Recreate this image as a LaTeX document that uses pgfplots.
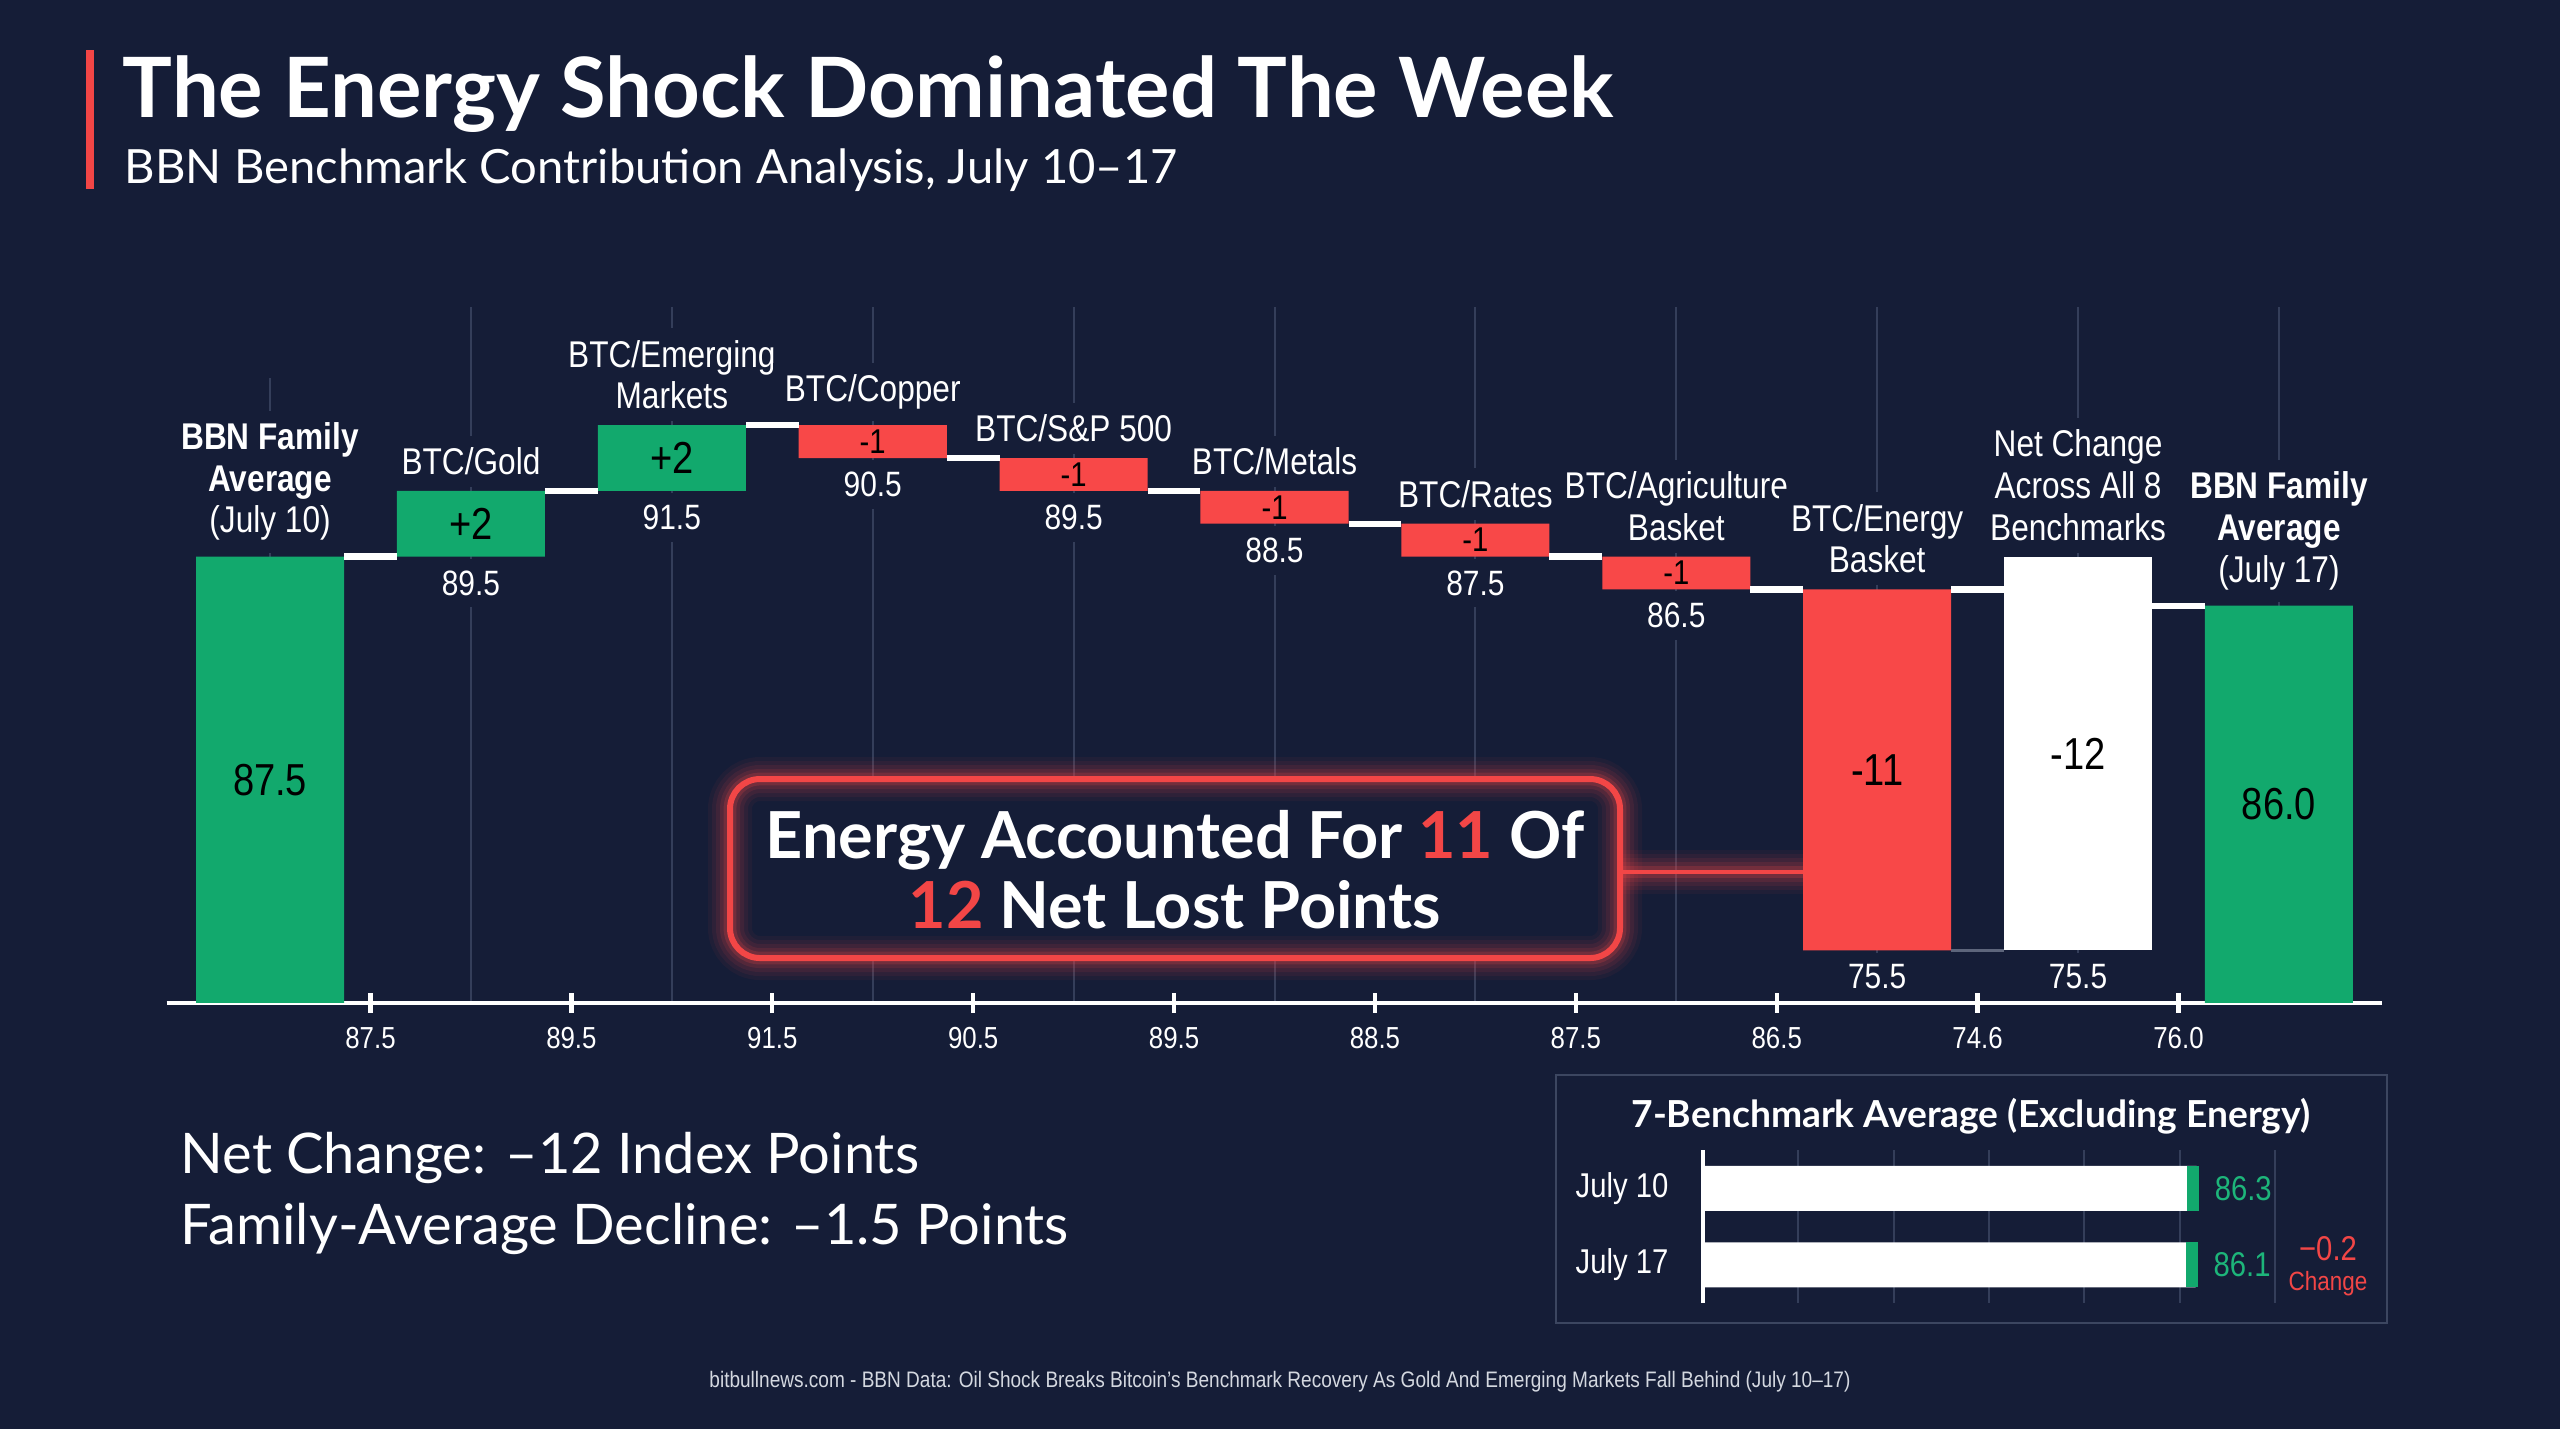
\documentclass[border=0pt]{standalone}
\usepackage{pgfplots}
\pgfplotsset{compat=1.18}
\usepackage{pgfplotstable}
\usepackage{fontspec}
\setmainfont{Liberation Sans}
\newfontfamily\latofont{Lato}
\newfontfamily\narrowfont[FakeStretch=0.85]{Liberation Sans}

\definecolor{bg}{HTML}{151D37}
\definecolor{gridc}{HTML}{343E5A}
\definecolor{upgreen}{HTML}{12A96D}
\definecolor{downred}{HTML}{F84848}
\definecolor{calred}{HTML}{F24646}
\definecolor{panelline}{HTML}{3C4660}
\definecolor{valgreen}{HTML}{1DB57A}
\definecolor{footgray}{HTML}{D4D8E0}

% waterfall: invisible base + visible segment per colour
\pgfplotstableread{
x  base  up    down  net
0  0     87.5  0     0
1  87.5  2     0     0
2  89.5  2     0     0
3  90.5  0     1     0
4  89.5  0     1     0
5  88.5  0     1     0
6  87.5  0     1     0
7  86.5  0     1     0
8  75.5  0     11    0
9  75.5  0     0     12
10 0     86.0  0     0
}\waterfall

% 7-benchmark average excluding energy
\pgfplotstableread{
y  val
2  86.3
1  86.1
}\exenergy

\pgfplotsset{
  wfframe/.style={
    at={(41.65pt,-250.75pt)}, anchor=south west,
    scale only axis, width=553.85pt, height=174pt,
    xmin=-0.515, xmax=10.513, ymin=73.9, ymax=95.1,
  },
}
\tikzset{
  catlab/.style={font=\narrowfont\fontsize{9.3}{10.4}\selectfont, text=white, align=center,
    fill=bg, inner xsep=3pt, inner ysep=3pt, anchor=south, yshift=0.8pt},
  vallab/.style={font=\narrowfont\fontsize{8.8}{10}\selectfont, text=white,
    fill=bg, inner xsep=3pt, inner ysep=3pt, anchor=north, yshift=-0.3pt},
  inlab/.style={font=\narrowfont\fontsize{11.2}{12}\selectfont, text=black, inner sep=0pt},
  inlabs/.style={font=\narrowfont\fontsize{8.6}{9}\selectfont, text=black, inner sep=0pt},
}

\begin{document}
\begin{tikzpicture}[x=0.25pt, y=-0.25pt]
\fill[bg] (0,0) rectangle (2560,1429);
\useasboundingbox (0,0) rectangle (2560,1429);

% heading
\fill[calred] (86,50) rectangle (94,189);
\node[anchor=base west, inner sep=0pt, text=white,
  font=\latofont\bfseries\fontsize{20.8}{24}\selectfont] at (122,117)
  {The Energy Shock Dominated The Week};
\node[anchor=base west, inner sep=0pt, text=white,
  font=\latofont\fontsize{11.8}{13}\selectfont] at (124,183)
  {BBN Benchmark Contribution Analysis, July 10–17};

% waterfall bars
\begin{axis}[
  wfframe,
  axis x line=bottom, axis y line=none,
  axis line style={white, line width=1pt, -},
  xtick={0.5,1.5,...,9.5},
  xticklabels={87.5,89.5,91.5,90.5,89.5,88.5,87.5,86.5,74.6,76.0},
  major tick length=5pt, tick align=center,
  xtick style={white, line width=1.1pt},
  xticklabel style={font=\narrowfont\fontsize{7.6}{8}\selectfont, text=white},
  minor xtick={0,...,10}, xminorgrids, minor tick length=0pt,
  minor grid style={gridc, line width=0.5pt},
  /pgf/number format/assume math mode=true,
  ybar stacked, bar width=0.737,
]
\addplot[draw=none, fill=none] table[x=x, y=base] {\waterfall};
\addplot[draw=none, fill=upgreen] table[x=x, y=up] {\waterfall};
\addplot[draw=none, fill=downred] table[x=x, y=down] {\waterfall};
\addplot[draw=none, fill=white] table[x=x, y=net] {\waterfall};
\end{axis}

% labels and connectors
\begin{axis}[wfframe, hide axis, clip=false, unbounded coords=jump]
\draw[bg, line width=2pt] (axis cs:0,92.94) -- (axis cs:0,95.2);

\node[catlab] at (axis cs:0,87.5) {\textbf{BBN Family}\\\textbf{Average}\\(July 10)};
\node[catlab] at (axis cs:1,89.5) {BTC/Gold};
\node[catlab] at (axis cs:2,91.5) {BTC/Emerging\\Markets};
\node[catlab] at (axis cs:3,91.5) {BTC/Copper};
\node[catlab] at (axis cs:4,90.5) {BTC/S\&P 500};
\node[catlab] at (axis cs:5,89.5) {BTC/Metals};
\node[catlab] at (axis cs:6,88.5) {BTC/Rates};
\node[catlab] at (axis cs:7,87.5) {BTC/Agriculture\\Basket};
\node[catlab] at (axis cs:8,86.5) {BTC/Energy\\Basket};
\node[catlab] at (axis cs:9,87.5) {Net Change\\Across All 8\\Benchmarks};
\node[catlab] at (axis cs:10,86.0) {\textbf{BBN Family}\\\textbf{Average}\\(July 17)};

\node[vallab] at (axis cs:1,87.5) {89.5};
\node[vallab] at (axis cs:2,89.5) {91.5};
\node[vallab] at (axis cs:3,90.5) {90.5};
\node[vallab] at (axis cs:4,89.5) {89.5};
\node[vallab] at (axis cs:5,88.5) {88.5};
\node[vallab] at (axis cs:6,87.5) {87.5};
\node[vallab] at (axis cs:7,86.5) {86.5};
\node[vallab] at (axis cs:8,75.5) {75.5};
\node[vallab] at (axis cs:9,75.5) {75.5};

\node[inlab]  at (axis cs:0,80.7) {87.5};
\node[inlab]  at (axis cs:1,88.5) {+2};
\node[inlab]  at (axis cs:2,90.5) {+2};
\node[inlabs] at (axis cs:3,91.0) {-1};
\node[inlabs] at (axis cs:4,90.0) {-1};
\node[inlabs] at (axis cs:5,89.0) {-1};
\node[inlabs] at (axis cs:6,88.0) {-1};
\node[inlabs] at (axis cs:7,87.0) {-1};
\node[inlab]  at (axis cs:8,81.0) {-11};
\node[inlab]  at (axis cs:9,81.5) {-12};
\node[inlab]  at (axis cs:10,79.95) {86.0};

% running-total connectors
\addplot[white, line width=1.6pt] coordinates {
  (0.3685,87.5) (0.6315,87.5) (0.7,nan)
  (1.3685,89.5) (1.6315,89.5) (1.7,nan)
  (2.3685,91.5) (2.6315,91.5) (2.7,nan)
  (3.3685,90.5) (3.6315,90.5) (3.7,nan)
  (4.3685,89.5) (4.6315,89.5) (4.7,nan)
  (5.3685,88.5) (5.6315,88.5) (5.7,nan)
  (6.3685,87.5) (6.6315,87.5) (6.7,nan)
  (7.3685,86.5) (7.6315,86.5) (7.7,nan)
  (8.3685,86.5) (8.6315,86.5) (8.7,nan)
  (9.3685,86.0) (9.6315,86.0)
};
\addplot[gridc!80!white, line width=0.6pt] coordinates {(8.3685,75.5) (8.6315,75.5)};
\end{axis}

% callout box
\fill[bg, rounded corners=7.5pt] (730,779) rectangle (1620,958);
\foreach \w/\o in {11pt/0.05, 9pt/0.07, 7pt/0.09, 5pt/0.12, 3.2pt/0.2} {
  \draw[calred, line width=\w, opacity=\o, rounded corners=7.5pt] (730,779) rectangle (1620,958);
  \draw[calred, line width=\w, opacity=\o] (1620,872) -- (1803,872);
}
\draw[calred, line width=1.5pt, rounded corners=7.5pt] (730,779) rectangle (1620,958);
\draw[calred, line width=1.1pt] (1620,872) -- (1803,872);
\node[anchor=base, inner sep=0pt, text=white,
  font=\latofont\bfseries\fontsize{16.2}{17.5}\selectfont] at (1175,858)
  {Energy Accounted For \textcolor{calred}{11} Of};
\node[anchor=base, inner sep=0pt, text=white,
  font=\latofont\bfseries\fontsize{16.2}{17.5}\selectfont] at (1175,928)
  {\textcolor{calred}{12} Net Lost Points};

% summary lines
\node[anchor=base west, inner sep=0pt, text=white,
  font=\latofont\fontsize{14}{17}\selectfont] at (180,1173)
  {Net Change: –12 Index Points};
\node[anchor=base west, inner sep=0pt, text=white,
  font=\latofont\fontsize{14}{17}\selectfont] at (180,1244)
  {Family-Average Decline: –1.5 Points};

% inset panel
\draw[panelline, line width=0.6pt] (1556,1075) rectangle (2387,1323);
\node[anchor=base, inner sep=0pt, text=white,
  font=\latofont\bfseries\fontsize{9.3}{11}\selectfont] at (1971,1127)
  {7-Benchmark Average (Excluding Energy)};
\begin{axis}[
  at={(425.75pt,-325.75pt)}, anchor=south west,
  scale only axis, width=143pt, height=38.25pt,
  xmin=0, xmax=100, ymin=0.5, ymax=2.5,
  axis x line=bottom, axis y line=left,
  x axis line style={draw=none},
  y axis line style={white, line width=0.8pt, -},
  xtick={0,16.667,33.333,50,66.667,83.333,100}, xticklabels={},
  xtick style={draw=none}, xmajorgrids,
  major grid style={gridc, line width=0.5pt},
  ytick={1,2}, yticklabels={July 17,July 10},
  ytick style={draw=none},
  yticklabel style={font=\narrowfont\fontsize{8.6}{9}\selectfont, text=white, xshift=-3pt},
  bar width=0.588,
  /pgf/number format/assume math mode=true,
]
\addplot[xbar, fill=white, draw=none,
  nodes near coords={\pgfmathprintnumber[fixed, fixed zerofill, precision=1]{\pgfplotspointmeta}},
  point meta=explicit,
  every node near coord/.style={font=\narrowfont\fontsize{8.6}{9}\selectfont, text=valgreen, anchor=west, xshift=1pt},
] table[x=val, y=y, meta=val] {\exenergy};
\addplot[only marks, mark=|, mark size=5.6pt,
  mark options={draw=upgreen, line width=3pt, xshift=-1pt}] table[x=val, y=y] {\exenergy};
\end{axis}
\node[anchor=base, inner sep=0pt, text=calred, font=\narrowfont\fontsize{8.6}{9}\selectfont] at (2328,1260) {−0.2};
\node[anchor=base, inner sep=0pt, text=calred, font=\narrowfont\fontsize{6.6}{7}\selectfont] at (2328,1290) {Change};

% source line
\node[anchor=base, inner sep=0pt, text=footgray, font=\narrowfont\fontsize{5.6}{6}\selectfont] at (1280,1387)
  {bitbullnews.com - BBN Data: Oil Shock Breaks Bitcoin’s Benchmark Recovery As Gold And Emerging Markets Fall Behind (July 10–17)};
\end{tikzpicture}
\end{document}
